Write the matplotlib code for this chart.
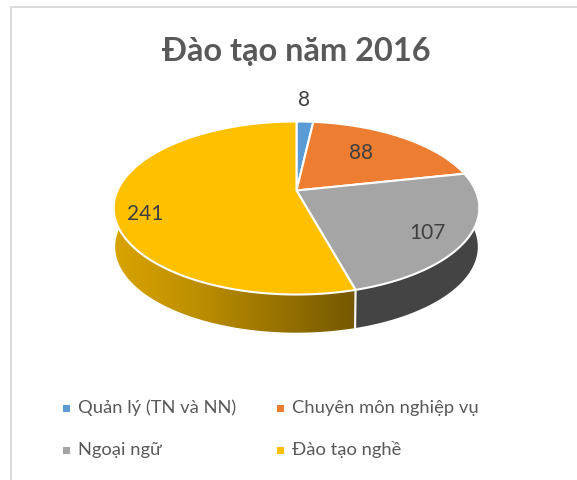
import numpy as np
import matplotlib
matplotlib.use("Agg")
import matplotlib.pyplot as plt
from matplotlib.patches import Polygon, Rectangle
from matplotlib.colors import LinearSegmentedColormap

categories = ["Quản lý (TN và NN)", "Chuyên môn nghiệp vụ", "Ngoại ngữ", "Đào tạo nghề"]
values = [8, 88, 107, 241]
colors = ["#5B9BD5", "#ED7D31", "#A5A5A5", "#FFC000"]
title = "Đào tạo năm 2016"

plt.rcParams['font.family'] = ['Lato', 'Noto Sans', 'DejaVu Sans']

fig = plt.figure(figsize=(5.77, 4.80), dpi=100, facecolor="white")
ax = fig.add_axes([0, 0, 1, 1])
ax.axis("off")

# perspective projection of the pie disc
CX, CY, A, B, K = 296.5, 190.5, 179, 83, 0.202
def proj(theta, dy=0.0, s=1.0):
    u, v = np.sin(theta), np.cos(theta)
    w = 1 + K * v
    return CX + s * A * u / w, CY - s * B * v / w + dy

edges = np.cumsum([0] + values) / sum(values) * 2 * np.pi

# frame (left and top only)
ax.add_patch(Rectangle((10, 5.5), 567, 2, fc="#dcdcdc", ec="none"))
ax.add_patch(Rectangle((10, 5.5), 2, 475, fc="#dcdcdc", ec="none"))

DEPTH, SHR = 39, 0.992
def wall(t0, t1):
    t = np.linspace(t0, t1, 300)
    x0, y0 = proj(t)
    x1, y1 = proj(t[::-1], dy=DEPTH, s=SHR)
    return np.column_stack([np.r_[x0, x1], np.r_[y0, y1]])

# grey wall
ax.add_patch(Polygon(wall(np.pi * 0.42, edges[3]), closed=True, fc="#444444", ec="none"))

# gold wall with horizontal gradient, clipped to the wall outline
gold = Polygon(wall(edges[3], np.pi * 1.58), closed=True, fc="none", ec="none")
ax.add_patch(gold)
cmap = LinearSegmentedColormap.from_list("gold", ["#D9A400", "#BE8F00", "#9A7400", "#755800"])
xe = proj(edges[3])[0]
im = ax.imshow(np.linspace(0, 1, 256)[None, :], extent=(113, xe, 345, 190), cmap=cmap,
               aspect="auto", interpolation="bilinear", zorder=1)
im.set_clip_path(gold)

ax.set_xlim(0, 577)
ax.set_ylim(480, 0)

# seam between the two visible side walls
xa, ya = proj(edges[3])
xb, yb = proj(edges[3], dy=DEPTH, s=SHR)
ax.plot([xa, xb], [ya, yb], color="#f4f4f0", lw=1.6, solid_capstyle="butt", zorder=2)

# top faces
for i, c in enumerate(colors):
    t = np.linspace(edges[i], edges[i + 1], 200)
    xs, ys = proj(t)
    pts = np.column_stack([np.r_[CX, xs], np.r_[CY, ys]])
    ax.add_patch(Polygon(pts, closed=True, fc=c, ec="#FFFFFF", lw=1.5, joinstyle="round", zorder=3))

# value labels
label_xy = [(304, 100), (361, 153), (427, 233), (145, 214)]
for v, (x, y) in zip(values, label_xy):
    ax.text(x, y, str(v), ha="center", va="center", fontsize=15, color="#404040", zorder=4)

ax.text(296, 51, title, ha="center", va="center", fontsize=23.4, fontweight="bold", color="#595959")

# legend
leg_xy = [(66, 408), (280, 408), (66, 450), (280, 450)]
for (x, y), c, name in zip(leg_xy, colors, categories):
    ax.add_patch(Rectangle((x - 3, y - 3.5), 7, 7, fc=c, ec="none"))
    ax.text(x + 12, y, name, ha="left", va="center", fontsize=13.2, color="#595959")

fig.savefig("out.png", dpi=100, facecolor="white")
